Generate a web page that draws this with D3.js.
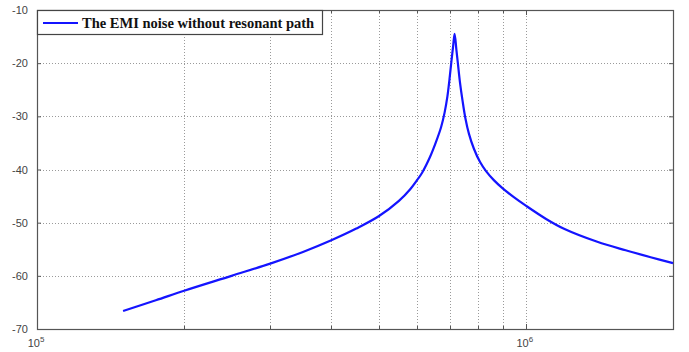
<!DOCTYPE html>
<html>
<head>
<meta charset="utf-8">
<script src="https://cdn.jsdelivr.net/npm/d3@7"></script>
<style>
  html, body { margin: 0; padding: 0; background: #fff; }
  svg { display: block; }
</style>
</head>
<body>
<svg id="chart" width="689" height="352"></svg>
<script>
// Frequency (Hz) and EMI noise level (dB)
const freq = [1.5e5, 1.75e5, 2e5, 2.5e5, 3e5, 3.5e5, 4e5, 4.5e5, 5e5, 5.5e5, 5.8e5, 6e5, 6.135e5, 6.37e5,
              6.55e5, 6.71e5, 6.82e5, 6.91e5, 6.98e5, 7.04e5, 7.10e5, 7.15e5, 7.21e5, 7.26e5, 7.33e5,
              7.42e5, 7.52e5, 7.65e5, 7.83e5, 8.06e5, 8.29e5, 8.6e5, 8.98e5, 9.45e5, 1e6,
              1.1e6, 1.2e6, 1.4e6, 1.6e6, 1.8e6, 2e6];
const noise = [-66.6, -64.6, -62.8, -60.0, -57.7, -55.5, -53.3, -51.1, -48.8, -45.9, -43.7, -41.9, -40.6, -37.6,
               -34.8, -32.0, -29.3, -26.3, -23.0, -19.8, -16.8, -14.5, -17.5, -20.0, -23.5,
               -27.0, -30.3, -33.3, -36.1, -38.6, -40.3, -42.0, -43.6, -45.2, -46.8,
               -49.3, -51.2, -53.6, -55.2, -56.5, -57.6];
const yTicks = [-70, -60, -50, -40, -30, -20, -10];
const xMajor = [1e5, 1e6];
const xMinor = [2e5, 3e5, 4e5, 5e5, 6e5, 7e5, 8e5, 9e5, 2e6];
const legendLabel = "The EMI noise without resonant path";

const svg = d3.select("#chart");
const plotL = 37, plotR = 673, plotT = 10, plotB = 329;

const x = d3.scaleLog().domain([1e5, 2e6]).range([plotL, plotR]);
const y = d3.scaleLinear().domain([-70, -10]).range([plotB, plotT]);

// grid
const grid = svg.append("g").attr("stroke", "#9a9a9a").attr("stroke-width", 1)
  .attr("stroke-dasharray", "1,2");
grid.selectAll("line.v").data(xMajor.concat(xMinor).filter(d => d > 1e5 && d < 2e6))
  .join("line").attr("class", "v")
  .attr("x1", d => Math.round(x(d)) + 0.5).attr("x2", d => Math.round(x(d)) + 0.5)
  .attr("y1", plotT).attr("y2", plotB);
grid.selectAll("line.h").data(yTicks.filter(d => d > -70 && d < -10))
  .join("line").attr("class", "h")
  .attr("y1", d => Math.round(y(d)) + 0.5).attr("y2", d => Math.round(y(d)) + 0.5)
  .attr("x1", plotL).attr("x2", plotR);

// axes with inward ticks
const axisColor = "#555";
const yAxisL = d3.axisLeft(y).tickValues(yTicks).tickSize(-4).tickPadding(9).tickFormat(d => String(d));
const yAxisR = d3.axisRight(y).tickValues(yTicks).tickSize(-4).tickFormat("");

function styleAxis(g) {
  g.select(".domain").remove();
  g.selectAll(".tick line").attr("stroke", axisColor);
  g.selectAll(".tick text").attr("fill", "#444").attr("font-family", "Arial, 'Liberation Sans', sans-serif")
    .attr("font-size", 11);
}
svg.append("g").attr("transform", `translate(${plotL},0)`).call(yAxisL).call(styleAxis);
svg.append("g").attr("transform", `translate(${plotR},0)`).call(yAxisR).call(styleAxis);

// x ticks: major longer, minor shorter, inward from top and bottom
const xTickVals = xMajor.concat(xMinor);
const xt = svg.append("g").attr("stroke", axisColor);
xt.selectAll("line.b").data(xTickVals).join("line").attr("class", "b")
  .attr("x1", d => Math.round(x(d)) + 0.5).attr("x2", d => Math.round(x(d)) + 0.5)
  .attr("y1", plotB).attr("y2", d => plotB - (xMajor.includes(d) ? 5 : 3));
xt.selectAll("line.t").data(xTickVals).join("line").attr("class", "t")
  .attr("x1", d => Math.round(x(d)) + 0.5).attr("x2", d => Math.round(x(d)) + 0.5)
  .attr("y1", plotT).attr("y2", d => plotT + (xMajor.includes(d) ? 5 : 3));

// x tick labels 10^n
const xl = svg.append("g").attr("fill", "#444").attr("font-family", "Arial, 'Liberation Sans', sans-serif");
xMajor.forEach(d => {
  const t = xl.append("text").attr("x", x(d) - 1).attr("y", plotB + 18).attr("text-anchor", "middle")
    .attr("font-size", 11);
  t.append("tspan").text("10");
  t.append("tspan").attr("dy", -5).attr("font-size", 8).text(Math.round(Math.log10(d)));
});

// frame
svg.append("rect").attr("x", plotL + 0.5).attr("y", plotT + 0.5)
  .attr("width", plotR - plotL).attr("height", plotB - plotT)
  .attr("fill", "none").attr("stroke", axisColor).attr("stroke-width", 1.2);

// noise curve
const pts = freq.map((f, i) => [f, noise[i]]);
const line = d3.line().x(d => x(d[0])).y(d => y(d[1])).curve(d3.curveCatmullRom.alpha(0.5));
svg.append("path").datum(pts).attr("d", line)
  .attr("fill", "none").attr("stroke", "#1414ff").attr("stroke-width", 2.2)
  .attr("stroke-linejoin", "round");

// legend
const lg = svg.append("g");
lg.append("rect").attr("x", plotL + 0.5).attr("y", plotT + 0.5).attr("width", 285).attr("height", 24)
  .attr("fill", "#fff").attr("stroke", "#444").attr("stroke-width", 1.2);
lg.append("line").attr("x1", 43).attr("x2", 78).attr("y1", 23).attr("y2", 23)
  .attr("stroke", "#1414ff").attr("stroke-width", 2);
lg.append("text").attr("x", 82).attr("y", 27.5)
  .attr("font-family", "'Liberation Serif', 'Times New Roman', serif").attr("font-size", 14.5)
  .attr("font-weight", "bold").attr("fill", "#111").text(legendLabel);
</script>
</body>
</html>
